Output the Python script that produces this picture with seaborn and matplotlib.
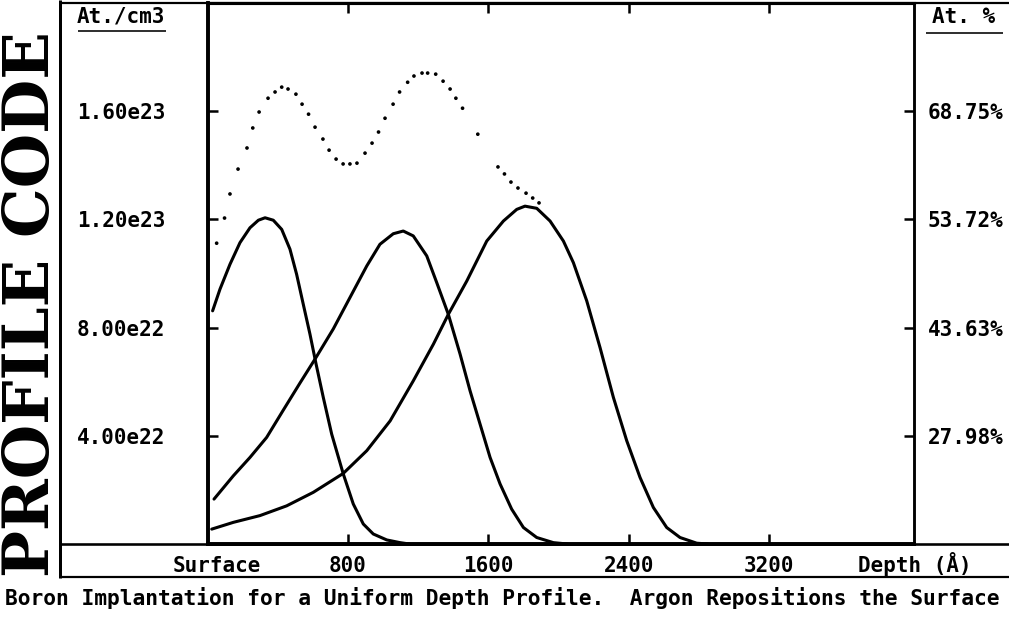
import numpy as np
import matplotlib.pyplot as plt
from matplotlib.lines import Line2D
import seaborn as sns

sns.set_theme(style="white")
plt.rcParams["font.family"] = ["DejaVu Sans Mono"]
plt.rcParams["font.weight"] = "bold"
plt.rcParams.update({
    "text.color": "black",
    "axes.labelcolor": "black",
    "xtick.color": "black",
    "ytick.color": "black",
})

W, H = 1009, 618

# --- data (depth in Angstrom, concentration in 1e22 at/cm3) ---
depth_1 = [28, 70, 127, 184, 241, 289, 327, 374, 422, 469, 507, 545, 583, 618,
           659, 707, 773, 830, 887, 944, 1021, 1097, 1150]
conc_1 = [8.62, 9.42, 10.34, 11.14, 11.69, 11.97, 12.06, 11.97, 11.63, 10.90,
          9.97, 8.86, 7.76, 6.65, 5.42, 4.06, 2.59, 1.48, 0.74, 0.37, 0.15, 0.05, 0.0]

depth_2 = [36, 146, 241, 336, 431, 526, 618, 716, 811, 907, 982, 1058, 1115,
           1172, 1249, 1306, 1372, 1439, 1496, 1553, 1610, 1667, 1733, 1800,
           1876, 1971, 2050]
conc_2 = [1.66, 2.52, 3.20, 3.94, 4.95, 5.95, 6.90, 7.95, 9.11, 10.28, 11.08,
          11.47, 11.57, 11.39, 10.65, 9.66, 8.49, 7.02, 5.66, 4.43, 3.20, 2.22,
          1.29, 0.61, 0.24, 0.05, 0.0]

depth_3 = [23, 146, 298, 450, 602, 773, 907, 1040, 1172, 1287, 1372, 1477,
           1591, 1686, 1762, 1809, 1876, 1952, 2028, 2085, 2161, 2237, 2313,
           2389, 2465, 2541, 2617, 2693, 2788, 2850]
conc_3 = [0.55, 0.80, 1.05, 1.41, 1.91, 2.61, 3.45, 4.55, 6.03, 7.39, 8.49,
          9.72, 11.20, 11.94, 12.37, 12.49, 12.41, 11.94, 11.20, 10.40, 8.99,
          7.26, 5.42, 3.82, 2.46, 1.35, 0.61, 0.24, 0.03, 0.0]

# total (dotted)
depth_tot = [51, 96, 127, 173, 224, 257, 293, 344, 384, 422, 458, 503, 538,
             575, 612, 657, 692, 732, 772, 811, 851, 897, 937, 974, 1011, 1057,
             1094, 1140, 1176, 1222, 1254, 1300, 1342, 1382, 1415, 1453, 1540,
             1655, 1692, 1729, 1769, 1815, 1853, 1889]
conc_tot = [11.12, 12.05, 12.94, 13.86, 14.64, 15.38, 15.97, 16.48, 16.71,
            16.89, 16.82, 16.63, 16.26, 15.89, 15.41, 14.97, 14.56, 14.23,
            14.05, 14.05, 14.08, 14.45, 14.82, 15.23, 15.74, 16.26, 16.71,
            17.07, 17.30, 17.41, 17.41, 17.37, 17.11, 16.82, 16.48, 16.11,
            15.15, 13.94, 13.68, 13.38, 13.16, 12.97, 12.79, 12.61]

x_ticks = [800, 1600, 2400, 3200]
x_labels = ["800", "1600", "2400", "3200"]
y_ticks = [4e22, 8e22, 1.2e23, 1.6e23]
y_labels = ["4.00e22", "8.00e22", "1.20e23", "1.60e23"]
pct_labels = ["27.98%", "43.63%", "53.72%", "68.75%"]

caption = "Boron Implantation for a Uniform Depth Profile.  Argon Repositions the Surface"


def fx(px):
    return px / W


def fy(py):
    return 1 - py / H


fig = plt.figure(figsize=(W / 100, H / 100), dpi=100)
fig.patch.set_facecolor("white")
ax = fig.add_axes([fx(207.7), fy(544), fx(914) - fx(207.7), fy(3) - fy(544)])
ax.set_facecolor("white")

scale = 1e22
for d, c in [(depth_1, conc_1), (depth_2, conc_2), (depth_3, conc_3)]:
    sns.lineplot(x=d, y=np.array(c) * scale, ax=ax, color="black", lw=2.2,
                 sort=False, estimator=None)
sns.scatterplot(x=depth_tot, y=np.array(conc_tot) * scale, ax=ax, color="black",
                s=7, edgecolor="none", marker="o")

ax.set_xlim(0, 4027)
ax.set_ylim(0, 2.0e23)

ax.set_xticks(x_ticks)
ax.set_xticklabels(x_labels)
ax.set_yticks(y_ticks)
ax.set_yticklabels(y_labels)
ax.tick_params(axis="x", direction="in", length=7, width=1.8,
               top=True, bottom=True, pad=9, labelsize=15)
ax.tick_params(axis="y", direction="in", length=7, width=1.8,
               left=True, pad=30.5, labelsize=15)
for lab in ax.get_yticklabels() + ax.get_xticklabels():
    lab.set_fontweight("bold")

ax2 = ax.twinx()
ax2.set_ylim(ax.get_ylim())
ax2.set_yticks(y_ticks)
ax2.set_yticklabels(pct_labels)
ax2.tick_params(axis="y", direction="in", length=7, width=1.8,
                right=True, pad=10, labelsize=15)
for lab in ax2.get_yticklabels():
    lab.set_fontweight("bold")

for a in (ax, ax2):
    for side, lw in [("left", 2.6), ("right", 1.8), ("top", 2.2), ("bottom", 2.6)]:
        a.spines[side].set_visible(True)
        a.spines[side].set_color("black")
        a.spines[side].set_linewidth(lw)
ax.set_xlabel("")
ax.set_ylabel("")

# frame lines of the print-out
frame = [
    ((60, 60), (0, 578), 3.0),
    ((60, W), (3, 3), 2.2),
    ((60, W), (544, 544), 2.6),
    ((60, W), (577, 577), 2.2),
    ((78, 166), (31, 31), 1.6),
    ((926, 1003), (33, 33), 1.6),
]
for xs, ys, lw in frame:
    fig.add_artist(Line2D([fx(x) for x in xs], [fy(y) for y in ys],
                          color="black", lw=lw * 0.72, solid_capstyle="butt"))

fig.text(fx(121), fy(23), "At./cm3", ha="center", va="baseline", fontsize=15,
         fontweight="bold")
fig.text(fx(964), fy(23), "At. %", ha="center", va="baseline", fontsize=15,
         fontweight="bold")
fig.text(fx(217), fy(572), "Surface", ha="center", va="baseline", fontsize=15,
         fontweight="bold")
fig.text(fx(915), fy(572), "Depth (Å)", ha="center", va="baseline", fontsize=15,
         fontweight="bold")
fig.text(fx(5), fy(605), caption, ha="left", va="baseline", fontsize=15.3,
         fontweight="bold")
fig.text(fx(32), fy(304), "PROFILE CODE", rotation=90, ha="center", va="center",
         fontsize=45, fontweight="bold", family=["DejaVu Serif"])

fig.savefig("out.png", dpi=100, facecolor="white")
